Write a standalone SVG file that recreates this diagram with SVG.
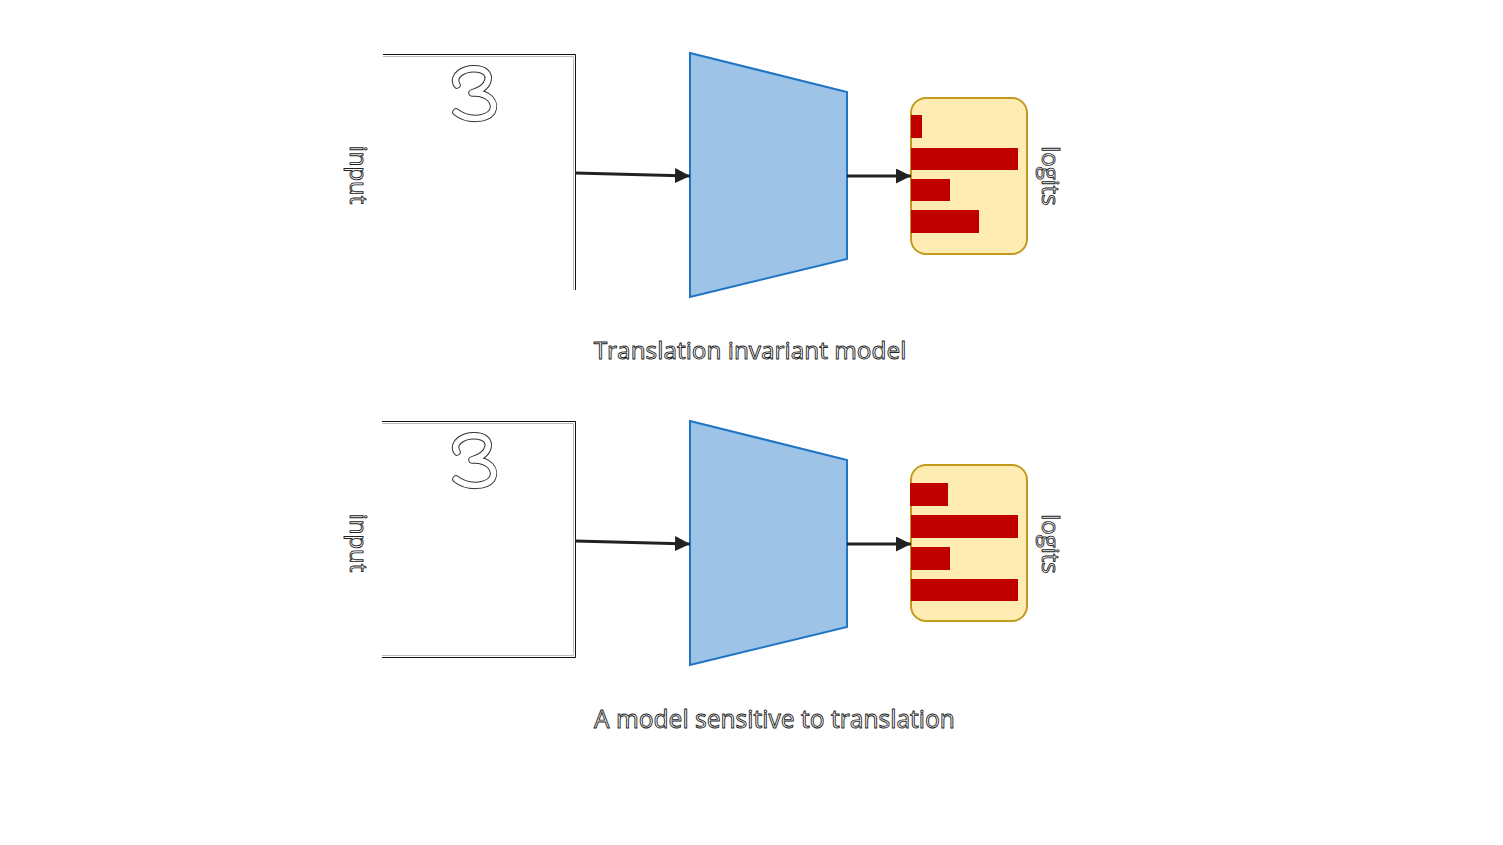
<svg xmlns="http://www.w3.org/2000/svg" width="1503" height="845" viewBox="0 0 1503 845">
<style>
.outline{font-family:"Open Sans","Liberation Sans",sans-serif;fill:#fff;stroke:#222;stroke-width:0.9}
.frame1{fill:none;stroke:#111;stroke-width:1}
.frame2{fill:none;stroke:#bbb;stroke-width:1}
.model{fill:#9DC3E6;stroke:#1F74C4;stroke-width:2}
.logit{fill:#FFECB3;stroke:#C49A1E;stroke-width:2}
.bar{fill:#C00000}
.conn{stroke:#222;stroke-width:3;fill:none}
.digit-o{fill:none;stroke:#333;stroke-width:7.5;stroke-linecap:round;stroke-linejoin:round}
.digit-i{fill:none;stroke:#fff;stroke-width:5.5;stroke-linecap:round;stroke-linejoin:round}
</style>
<defs>
<marker id="ah" viewBox="0 0 10 10" refX="10" refY="5" markerWidth="5" markerHeight="5" orient="auto" markerUnits="strokeWidth">
<path d="M0,0 L10,5 L0,10 Z" fill="#222"/>
</marker>
<path id="three" d="M457,85 C451,76 464,67 478,69 C493,71 492,87 472,93 C489,92 497,103 492,112 C486,120 467,121 456,112"/>
</defs>
<rect width="1503" height="845" fill="#fff"/>

<g id="input-top">
<path class="frame2" d="M383,56.5 H573.5 V290"/>
<path class="frame1" d="M383,54.5 H575.5 V290"/>
<use href="#three" class="digit-o"/>
<use href="#three" class="digit-i"/>
<text class="outline" font-size="24" transform="translate(350,175) rotate(90)" text-anchor="middle">input</text>
</g>

<g id="model-top">
<polygon class="model" points="690,53 847,92 847,259 690,297"/>
</g>

<g id="logits-top">
<rect class="logit" x="911" y="98" width="116" height="156" rx="15"/>
<rect class="bar" x="911" y="115" width="11" height="23"/>
<rect class="bar" x="911" y="148" width="107" height="22"/>
<rect class="bar" x="911" y="179" width="39" height="22"/>
<rect class="bar" x="911" y="210" width="68" height="23"/>
<text class="outline" font-size="24" transform="translate(1042,176) rotate(90)" text-anchor="middle">logits</text>
</g>

<g id="caption-top">
<text class="outline" font-size="24.4" x="750" y="359" text-anchor="middle">Translation invariant model</text>
</g>

<g id="input-bottom">
<path class="frame2" d="M382,423.5 H573.5 V655.5 H382"/>
<path class="frame1" d="M382,421.5 H575.5 V657.5 H382"/>
<g transform="translate(0,367)">
<use href="#three" class="digit-o"/>
<use href="#three" class="digit-i"/>
</g>
<text class="outline" font-size="24" transform="translate(350,543) rotate(90)" text-anchor="middle">input</text>
</g>

<g id="model-bottom">
<polygon class="model" points="690,421 847,460 847,627 690,665"/>
</g>

<g id="logits-bottom">
<rect class="logit" x="911" y="465" width="116" height="156" rx="15"/>
<rect class="bar" x="910" y="483" width="38" height="23"/>
<rect class="bar" x="911" y="515" width="107" height="23"/>
<rect class="bar" x="911" y="547" width="39" height="23"/>
<rect class="bar" x="911" y="579" width="107" height="22"/>
<text class="outline" font-size="24" transform="translate(1042,544) rotate(90)" text-anchor="middle">logits</text>
</g>

<g id="caption-bottom">
<text class="outline" font-size="24.6" x="774.5" y="728" text-anchor="middle">A model sensitive to translation</text>
</g>

<g id="connectors">
<line class="conn" x1="575" y1="173" x2="690" y2="176" marker-end="url(#ah)"/>
<line class="conn" x1="847" y1="176" x2="911" y2="176" marker-end="url(#ah)"/>
<line class="conn" x1="575" y1="541" x2="690" y2="544" marker-end="url(#ah)"/>
<line class="conn" x1="847" y1="544" x2="911" y2="544" marker-end="url(#ah)"/>
</g>
</svg>
